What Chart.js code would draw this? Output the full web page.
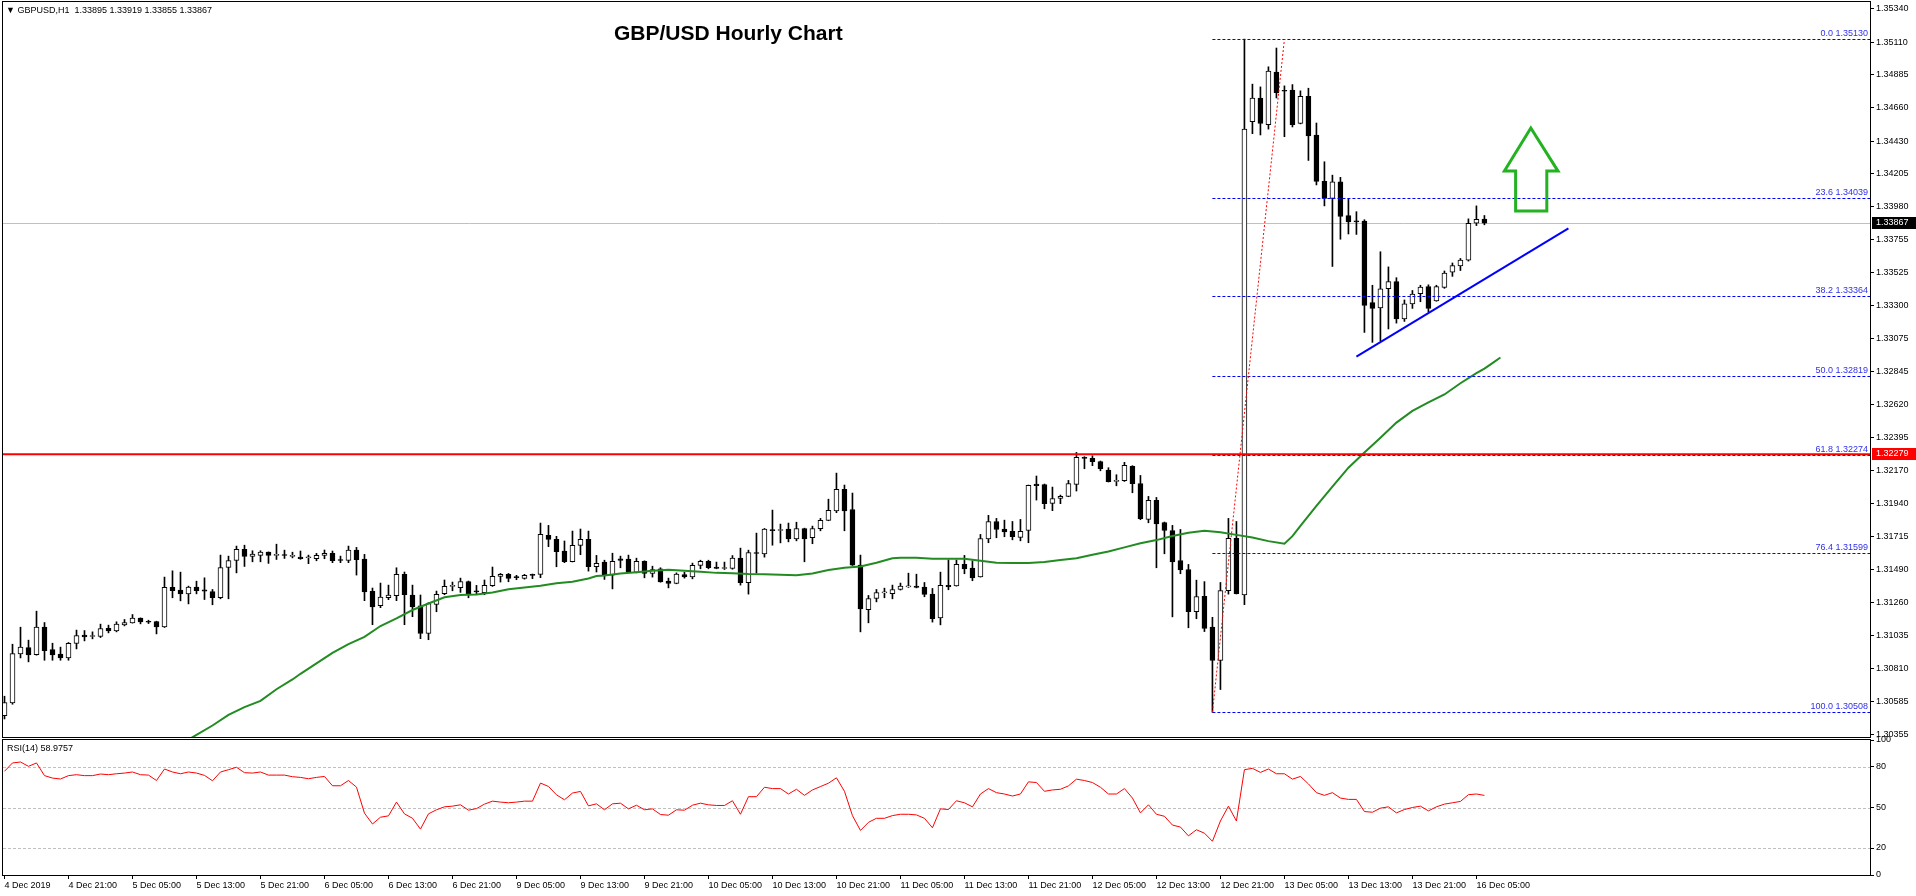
<!DOCTYPE html>
<html>
<head>
<meta charset="utf-8">
<script src="https://cdn.jsdelivr.net/npm/chart.js@4.4.1/dist/chart.umd.min.js"></script>
<style>
  html, body { margin: 0; padding: 0; background: #fff; overflow: hidden; }
  body { width: 1916px; height: 896px; position: relative; font-family: 'Liberation Sans', Arial, sans-serif; }
  #main { position: absolute; left: 0; top: -10px; }
  #rsi { position: absolute; left: 0; top: 730px; }
  .lbl { position: absolute; white-space: pre; color: #000; line-height: 1; }
</style>
</head>
<body>
<canvas id="main" width="1916" height="760"></canvas>
<canvas id="rsi" width="1916" height="166"></canvas>
<div class="lbl" style="left:6px;top:6px;font-size:9px">&#9660; GBPUSD,H1  1.33895 1.33919 1.33855 1.33867</div>
<div class="lbl" style="left:614px;top:22px;font-size:21px;font-weight:bold">GBP/USD Hourly Chart</div>
<div class="lbl" style="left:7px;top:744px;font-size:9px">RSI(14) 58.9757</div>
<script>
// hourly bars, 4 Dec 2019 13:00 .. 16 Dec 2019 06:00 (index 0..185)
const opens = [
  1.30485,1.30572,1.30909,1.30952,1.30904,1.31092,1.30939,1.30907,1.30881,1.30980,
  1.31037,1.31028,1.31028,1.31085,1.31067,1.31108,1.31122,1.31154,1.31131,1.31131,
  1.31094,1.31365,1.31346,1.31321,1.31367,1.31349,1.31337,1.31294,1.31502,1.31550,
  1.31626,1.31578,1.31585,1.31607,1.31585,1.31585,1.31578,1.31574,1.31569,1.31562,
  1.31585,1.31599,1.31551,1.31551,1.31622,1.31560,1.31338,1.31239,1.31294,1.31308,
  1.31455,1.31313,1.31239,1.31049,1.31248,1.31322,1.31372,1.31363,1.31406,1.31338,
  1.31329,1.31377,1.31441,1.31455,1.31434,1.31427,1.31455,1.31455,1.31722,1.31695,
  1.31615,1.31542,1.31654,1.31695,1.31507,1.31539,1.31449,1.31562,1.31559,1.31468,
  1.31545,1.31461,1.31493,1.31408,1.31392,1.31454,1.31438,1.31516,1.31545,1.31504,
  1.31495,1.31495,1.31566,1.31397,1.31603,1.31596,1.31763,1.31756,1.31765,1.31699,
  1.31770,1.31706,1.31768,1.31825,1.31891,1.32038,1.31900,1.31518,1.31213,1.31289,
  1.31328,1.31323,1.31351,1.31369,1.31374,1.31367,1.31319,1.31156,1.31379,1.31376,
  1.31523,1.31498,1.31438,1.31699,1.31818,1.31766,1.31750,1.31708,1.31756,1.32075,
  1.32072,1.31942,1.31976,1.31990,1.32072,1.32258,1.32251,1.32230,1.32171,1.32093,
  1.32098,1.32196,1.32079,1.31832,1.31963,1.31811,1.31756,1.31550,1.31488,1.31198,
  1.31304,1.31092,1.30863,1.31343,1.31702,1.31313,1.34564,1.34726,1.34542,1.34903,
  1.34775,1.34781,1.34551,1.34738,1.34472,1.34153,1.34037,1.34150,1.33918,1.33881,
  1.33881,1.33321,1.33284,1.33416,1.33465,1.33208,1.33312,1.33382,1.33431,1.33333,
  1.33425,1.33529,1.33572,1.33612,1.33866,1.33895
];
const highs = [
  1.30618,1.30975,1.31092,1.31003,1.31202,1.31124,1.30982,1.30955,1.30987,1.31072,
  1.31069,1.31060,1.31113,1.31106,1.31129,1.31145,1.31179,1.31156,1.31140,1.31133,
  1.31436,1.31479,1.31470,1.31374,1.31408,1.31431,1.31351,1.31587,1.31580,1.31649,
  1.31655,1.31617,1.31617,1.31609,1.31662,1.31621,1.31607,1.31615,1.31587,1.31599,
  1.31622,1.31615,1.31580,1.31649,1.31640,1.31592,1.31361,1.31395,1.31381,1.31500,
  1.31471,1.31381,1.31313,1.31260,1.31340,1.31416,1.31402,1.31429,1.31409,1.31379,
  1.31416,1.31505,1.31461,1.31461,1.31448,1.31455,1.31457,1.31807,1.31791,1.31716,
  1.31684,1.31752,1.31766,1.31752,1.31585,1.31552,1.31600,1.31580,1.31587,1.31566,
  1.31548,1.31511,1.31500,1.31429,1.31465,1.31470,1.31532,1.31552,1.31552,1.31539,
  1.31539,1.31584,1.31635,1.31621,1.31738,1.31770,1.31896,1.31800,1.31807,1.31813,
  1.31772,1.31786,1.31839,1.31971,1.32150,1.32068,1.32013,1.31587,1.31310,1.31351,
  1.31360,1.31381,1.31395,1.31463,1.31456,1.31399,1.31358,1.31470,1.31555,1.31553,
  1.31585,1.31548,1.31729,1.31860,1.31839,1.31827,1.31818,1.31832,1.32068,1.32130,
  1.32075,1.32054,1.31999,1.32100,1.32292,1.32263,1.32269,1.32233,1.32187,1.32139,
  1.32224,1.32201,1.32134,1.31990,1.31983,1.31814,1.31791,1.31763,1.31523,1.31415,
  1.31405,1.31160,1.31399,1.31839,1.31818,1.35130,1.34821,1.34802,1.34940,1.35069,
  1.34809,1.34818,1.34775,1.34793,1.34554,1.34288,1.34196,1.34181,1.34034,1.33945,
  1.33890,1.33440,1.33670,1.33566,1.33492,1.33339,1.33404,1.33440,1.33443,1.33440,
  1.33538,1.33593,1.33624,1.33896,1.33985,1.33919
];
const lows = [
  1.30462,1.30563,1.30881,1.30854,1.30900,1.30865,1.30865,1.30865,1.30865,1.30943,
  1.30998,1.31012,1.31021,1.31053,1.31060,1.31101,1.31120,1.31115,1.31117,1.31046,
  1.31090,1.31294,1.31273,1.31252,1.31321,1.31282,1.31246,1.31287,1.31287,1.31465,
  1.31509,1.31541,1.31541,1.31530,1.31557,1.31564,1.31568,1.31558,1.31528,1.31548,
  1.31562,1.31535,1.31535,1.31535,1.31450,1.31274,1.31109,1.31226,1.31281,1.31274,
  1.31109,1.31164,1.31013,1.31006,1.31198,1.31315,1.31342,1.31331,1.31294,1.31315,
  1.31315,1.31372,1.31402,1.31404,1.31418,1.31422,1.31425,1.31432,1.31645,1.31507,
  1.31535,1.31540,1.31590,1.31477,1.31471,1.31420,1.31355,1.31500,1.31466,1.31465,
  1.31431,1.31436,1.31401,1.31362,1.31390,1.31429,1.31424,1.31493,1.31493,1.31493,
  1.31488,1.31490,1.31381,1.31319,1.31463,1.31573,1.31655,1.31671,1.31678,1.31685,
  1.31541,1.31665,1.31754,1.31823,1.31878,1.31754,1.31516,1.31060,1.31122,1.31266,
  1.31294,1.31287,1.31347,1.31365,1.31362,1.31301,1.31127,1.31108,1.31349,1.31374,
  1.31459,1.31411,1.31436,1.31672,1.31706,1.31713,1.31692,1.31685,1.31672,1.31965,
  1.31905,1.31892,1.31940,1.31988,1.32027,1.32180,1.32201,1.32166,1.32089,1.32063,
  1.32093,1.32015,1.31830,1.31809,1.31500,1.31596,1.31163,1.31459,1.31088,1.31150,
  1.31062,1.30508,1.30664,1.31319,1.31320,1.31246,1.34481,1.34472,1.34512,1.34726,
  1.34460,1.34527,1.34548,1.34297,1.34129,1.33985,1.33569,1.33756,1.33792,1.33789,
  1.33116,1.33048,1.33058,1.33140,1.33180,1.33192,1.33281,1.33327,1.33257,1.33330,
  1.33419,1.33501,1.33541,1.33606,1.33850,1.33855
];
const closes = [
  1.30575,1.30911,1.30955,1.30902,1.31092,1.30930,1.30902,1.30881,1.30982,1.31035,
  1.31026,1.31033,1.31083,1.31067,1.31113,1.31124,1.31154,1.31129,1.31126,1.31094,
  1.31365,1.31342,1.31321,1.31367,1.31342,1.31339,1.31294,1.31502,1.31550,1.31626,
  1.31578,1.31594,1.31607,1.31585,1.31587,1.31584,1.31579,1.31562,1.31570,1.31585,
  1.31599,1.31548,1.31550,1.31622,1.31555,1.31335,1.31232,1.31299,1.31313,1.31455,
  1.31315,1.31232,1.31049,1.31255,1.31317,1.31372,1.31377,1.31406,1.31315,1.31335,
  1.31379,1.31441,1.31455,1.31427,1.31432,1.31448,1.31448,1.31729,1.31695,1.31610,
  1.31542,1.31654,1.31695,1.31507,1.31530,1.31449,1.31545,1.31550,1.31468,1.31545,
  1.31461,1.31488,1.31403,1.31392,1.31456,1.31438,1.31516,1.31545,1.31500,1.31495,
  1.31496,1.31566,1.31397,1.31605,1.31598,1.31765,1.31754,1.31757,1.31699,1.31770,
  1.31699,1.31770,1.31825,1.31894,1.32038,1.31891,1.31518,1.31218,1.31289,1.31330,
  1.31330,1.31351,1.31374,1.31372,1.31365,1.31317,1.31150,1.31379,1.31369,1.31523,
  1.31493,1.31431,1.31701,1.31818,1.31763,1.31747,1.31713,1.31750,1.32066,1.32063,
  1.31940,1.31976,1.31990,1.32079,1.32258,1.32251,1.32228,1.32180,1.32091,1.32094,
  1.32203,1.32077,1.31837,1.31963,1.31802,1.31756,1.31541,1.31486,1.31198,1.31303,
  1.31083,1.30863,1.31343,1.31702,1.31322,1.34512,1.34726,1.34551,1.34910,1.34763,
  1.34772,1.34542,1.34738,1.34466,1.34153,1.34037,1.34150,1.33912,1.33875,1.33875,
  1.33302,1.33281,1.33416,1.33465,1.33208,1.33312,1.33379,1.33428,1.33281,1.33431,
  1.33523,1.33575,1.33612,1.33866,1.33893,1.33867
];

// moving average (green), read at these bars
const maBars = [22,24,26,28,30,32,34,36,37,39,41,43,45,47,49,51,53,55,57,59,61,63,65,67,69,71,73,74,
  75,77,79,81,83,85,87,89,91,93,95,97,99,101,103,105,107,109,111,112,114,116,118,120,122,124,126,128,
  130,132,134,136,138,140,142,144,146,148,149,150,152,154,156,158,160,161,162,164,166,168,170,172,174,
  176,178,180,182,184,185,186,187];
const maValues = [1.30290,1.30352,1.30417,1.30490,1.30543,1.30586,1.30666,1.30733,1.30772,1.30843,
  1.30916,1.30976,1.31026,1.31100,1.31152,1.31210,1.31255,1.31297,1.31313,1.31317,1.31331,1.31352,
  1.31365,1.31377,1.31393,1.31404,1.31427,1.31443,1.31447,1.31461,1.31470,1.31479,1.31486,1.31479,
  1.31472,1.31465,1.31463,1.31458,1.31456,1.31452,1.31449,1.31461,1.31484,1.31500,1.31509,1.31534,
  1.31566,1.31569,1.31569,1.31562,1.31562,1.31562,1.31548,1.31534,1.31532,1.31532,1.31539,1.31553,
  1.31566,1.31589,1.31612,1.31640,1.31669,1.31690,1.31718,1.31741,1.31747,1.31754,1.31744,1.31726,
  1.31708,1.31683,1.31665,1.31717,1.31787,1.31925,1.32057,1.32187,1.32292,1.32393,1.32497,1.32577,
  1.32635,1.32690,1.32767,1.32837,1.32868,1.32905,1.32944];

// RSI(14), one value per bar
const rsiValues = [
  76.8,83.0,83.7,80.5,83.0,73.6,71.8,71.1,73.6,74.3,73.6,73.6,74.8,74.3,75.0,75.5,76.3,74.3,74.0,70.0,
  78.5,76.3,75.0,76.3,75.5,73.8,69.8,76.3,78.0,79.8,75.8,75.5,76.3,74.0,74.0,74.0,72.8,72.3,71.3,72.3,
  73.0,66.1,66.1,70.0,65.1,45.8,37.8,42.8,43.8,54.0,45.3,42.0,34.0,45.3,48.3,50.5,51.0,52.0,48.0,49.2,
  52.5,54.7,54.0,53.5,54.0,54.7,54.7,68.1,65.6,59.4,55.7,60.7,61.9,51.2,52.7,48.3,52.7,53.2,49.0,51.7,
  48.3,49.0,44.8,44.3,48.3,48.0,51.7,53.2,52.0,51.5,51.5,55.0,45.0,58.0,58.0,65.0,64.0,64.0,60.0,63.5,
  59.0,63.0,65.5,68.0,72.0,62.0,44.0,33.0,39.0,42.0,42.0,44.0,45.0,45.0,44.5,42.0,35.0,49.0,48.5,55.0,
  53.5,50.5,60.0,64.0,61.0,60.0,58.5,60.0,69.0,68.5,62.0,63.0,63.5,66.0,71.0,70.0,68.5,65.0,60.0,60.0,
  64.0,57.0,46.0,52.0,45.0,43.5,37.0,35.5,29.0,33.5,31.0,25.0,40.0,51.0,40.0,78.0,79.0,76.0,78.5,75.0,
  75.0,71.0,73.0,67.5,61.0,59.0,61.0,57.0,56.0,56.0,47.0,46.5,49.5,50.5,46.0,48.5,50.0,51.0,47.5,50.5,
  52.5,53.5,54.5,59.5,60.0,58.98
];
const rsiLevels = [80, 50, 20];
const rsiTicks = [0, 20, 50, 80, 100];

const priceTicks = [1.35340,1.35110,1.34885,1.34660,1.34430,1.34205,1.33980,1.33755,1.33525,1.33300,
  1.33075,1.32845,1.32620,1.32395,1.32170,1.31940,1.31715,1.31490,1.31260,1.31035,1.30810,1.30585,1.30355];
const dateTickBars = [0,8,16,24,32,40,48,56,64,72,80,88,96,104,112,120,128,136,144,152,160,168,176,184];
const dateLabels = ['4 Dec 2019','4 Dec 21:00','5 Dec 05:00','5 Dec 13:00','5 Dec 21:00','6 Dec 05:00',
  '6 Dec 13:00','6 Dec 21:00','9 Dec 05:00','9 Dec 13:00','9 Dec 21:00','10 Dec 05:00','10 Dec 13:00',
  '10 Dec 21:00','11 Dec 05:00','11 Dec 13:00','11 Dec 21:00','12 Dec 05:00','12 Dec 13:00','12 Dec 21:00',
  '13 Dec 05:00','13 Dec 13:00','13 Dec 21:00','16 Dec 05:00'];

// drawing objects
const fibLevels = [0.0, 23.6, 38.2, 50.0, 61.8, 76.4, 100.0];
const fibPrices = [1.35130, 1.34039, 1.33364, 1.32819, 1.32274, 1.31599, 1.30508];
const fibFromBar = 151, fibToBar = 160;
const resistance = 1.32279;
const bidPrice = 1.33867;
const trendBars = [169, 195.5];
const trendPrices = [1.32950, 1.33830];
const arrowBars = [190.8, 194.2, 192.8, 192.8, 188.9, 188.9, 187.5];
const arrowPrices = [1.34520, 1.34224, 1.34224, 1.33950, 1.33950, 1.34224, 1.34224];

const FONT = "'Liberation Sans', Arial, sans-serif";
const xMin = -0.1875, xMax = 233.2;

const bars = opens.map((o, i) => i);
const bodyFill = bars.map(i => closes[i] >= opens[i] ? '#ffffff' : '#000000');

const framePlugin = {
  id: 'frame',
  afterDraw(chart) {
    const { ctx, chartArea: a } = chart;
    ctx.save();
    ctx.strokeStyle = '#000';
    ctx.lineWidth = 1;
    ctx.strokeRect(Math.round(a.left) - 0.5, Math.round(a.top) - 0.5,
      Math.round(a.right - a.left) + 1, Math.round(a.bottom - a.top) + 1);
    ctx.restore();
  }
};

function axisBox(ctx, chart, price, bg, fg) {
  const y = chart.scales.y.getPixelForValue(price);
  const x = chart.chartArea.right + 2;
  ctx.fillStyle = bg;
  ctx.fillRect(x, Math.round(y) - 6, 44, 12);
  ctx.fillStyle = fg;
  ctx.font = '9px ' + FONT;
  ctx.textBaseline = 'middle';
  ctx.textAlign = 'left';
  ctx.fillText(price.toFixed(5), x + 4, Math.round(y));
}

const objectsPlugin = {
  id: 'objects',
  beforeDatasetsDraw(chart) {
    const { ctx, chartArea: a, scales: { y } } = chart;
    ctx.save();
    const by = Math.round(y.getPixelForValue(bidPrice)) + 0.5;
    ctx.strokeStyle = '#c0c0c0';
    ctx.lineWidth = 1;
    ctx.beginPath(); ctx.moveTo(a.left, by); ctx.lineTo(a.right, by); ctx.stroke();
    ctx.restore();
  },
  afterDatasetsDraw(chart) {
    const { ctx, chartArea: a, scales: { x, y } } = chart;
    ctx.save();
    // fibonacci levels
    ctx.setLineDash([3, 2]);
    ctx.strokeStyle = '#0000ff';
    ctx.lineWidth = 1;
    ctx.font = '9px ' + FONT;
    ctx.textAlign = 'right';
    ctx.textBaseline = 'bottom';
    const fx = x.getPixelForValue(fibFromBar);
    fibPrices.forEach((p, k) => {
      const fy = Math.round(y.getPixelForValue(p)) + 0.5;
      ctx.beginPath(); ctx.moveTo(fx, fy); ctx.lineTo(a.right, fy); ctx.stroke();
      ctx.fillStyle = '#3030e8';
      ctx.fillText(fibLevels[k].toFixed(1) + ' ' + p.toFixed(5), a.right - 2, fy - 1);
    });
    // fibonacci base line (red dotted)
    ctx.setLineDash([2, 2]);
    ctx.strokeStyle = '#ff0000';
    ctx.beginPath();
    ctx.moveTo(x.getPixelForValue(fibFromBar), y.getPixelForValue(fibPrices[6]));
    ctx.lineTo(x.getPixelForValue(fibToBar), y.getPixelForValue(fibPrices[0]));
    ctx.stroke();
    ctx.setLineDash([]);
    // resistance line
    const ry = y.getPixelForValue(resistance);
    ctx.strokeStyle = '#ff0000';
    ctx.lineWidth = 2;
    ctx.beginPath(); ctx.moveTo(a.left, ry); ctx.lineTo(a.right, ry); ctx.stroke();
    // arrow
    ctx.strokeStyle = '#22b222';
    ctx.lineWidth = 3;
    ctx.lineJoin = 'miter';
    ctx.beginPath();
    arrowBars.forEach((b, k) => {
      const px = x.getPixelForValue(b), py = y.getPixelForValue(arrowPrices[k]);
      if (k === 0) ctx.moveTo(px, py); else ctx.lineTo(px, py);
    });
    ctx.closePath();
    ctx.stroke();
    ctx.restore();
  },
  afterDraw(chart) {
    const { ctx } = chart;
    ctx.save();
    axisBox(ctx, chart, bidPrice, '#000000', '#ffffff');
    axisBox(ctx, chart, resistance, '#ff0000', '#ffffff');
    ctx.restore();
  }
};

new Chart(document.getElementById('main'), {
  type: 'bar',
  data: {
    datasets: [
      {
        type: 'line',
        data: trendBars.map((b, k) => ({ x: b, y: trendPrices[k] })),
        borderColor: '#0000ff', borderWidth: 2, pointRadius: 0, order: 0
      },
      {
        type: 'line',
        data: maBars.map((b, k) => ({ x: b, y: maValues[k] })),
        borderColor: '#228b22', borderWidth: 2, pointRadius: 0, tension: 0, order: 1
      },
      {
        data: bars.map(i => ({ x: i, y: [opens[i], closes[i]] })),
        backgroundColor: bodyFill, borderColor: '#000000', borderWidth: 1,
        borderSkipped: false, barThickness: 5, minBarLength: 1, grouped: false, order: 2
      },
      {
        data: bars.map(i => ({ x: i, y: [lows[i], highs[i]] })),
        backgroundColor: '#000000', borderWidth: 0, barThickness: 1, grouped: false, order: 3
      }
    ]
  },
  options: {
    responsive: false,
    animation: false,
    events: [],
    layout: { padding: { left: 3, right: 0, top: 12, bottom: 13 } },
    plugins: { legend: { display: false }, tooltip: { enabled: false } },
    scales: {
      x: { type: 'linear', min: xMin, max: xMax, offset: false, display: false },
      y: {
        position: 'right', min: 1.30338, max: 1.35385, beginAtZero: false,
        afterBuildTicks: s => { s.ticks = priceTicks.map(v => ({ value: v })); },
        afterFit: s => { s.width = 46; },
        ticks: { callback: v => v.toFixed(5), color: '#000', padding: 2, font: { family: FONT, size: 9 } },
        grid: { drawOnChartArea: false, tickLength: 4, color: '#000' },
        border: { color: '#000' }
      }
    }
  },
  plugins: [objectsPlugin, framePlugin]
});

const rsiLevelsPlugin = {
  id: 'rsiLevels',
  beforeDatasetsDraw(chart) {
    const { ctx, chartArea: a, scales: { y } } = chart;
    ctx.save();
    ctx.setLineDash([3, 2]);
    ctx.strokeStyle = '#c0c0c0';
    ctx.lineWidth = 1;
    rsiLevels.forEach(l => {
      const ly = Math.round(y.getPixelForValue(l)) + 0.5;
      ctx.beginPath(); ctx.moveTo(a.left, ly); ctx.lineTo(a.right, ly); ctx.stroke();
    });
    ctx.restore();
  }
};

new Chart(document.getElementById('rsi'), {
  type: 'line',
  data: {
    datasets: [{
      data: bars.map(i => ({ x: i, y: rsiValues[i] })),
      borderColor: '#ff0000', borderWidth: 1, pointRadius: 0, tension: 0
    }]
  },
  options: {
    responsive: false,
    animation: false,
    events: [],
    layout: { padding: { left: 3, right: 0, top: 10, bottom: 0 } },
    plugins: { legend: { display: false }, tooltip: { enabled: false } },
    scales: {
      x: {
        type: 'linear', min: xMin, max: xMax, offset: false,
        afterBuildTicks: s => { s.ticks = dateTickBars.map(v => ({ value: v })); },
        afterFit: s => { s.height = 21; },
        ticks: {
          autoSkip: false, maxRotation: 0, minRotation: 0, align: 'start', padding: 1,
          color: '#000', font: { family: FONT, size: 9 },
          callback: (v, i) => dateLabels[i]
        },
        grid: { drawOnChartArea: false, tickLength: 4, color: '#000' },
        border: { color: '#000' }
      },
      y: {
        position: 'right', min: 0, max: 100,
        afterBuildTicks: s => { s.ticks = rsiTicks.map(v => ({ value: v })); },
        afterFit: s => { s.width = 46; },
        ticks: { callback: v => String(v), color: '#000', padding: 2, font: { family: FONT, size: 9 } },
        grid: { drawOnChartArea: false, tickLength: 4, color: '#000' },
        border: { color: '#000' }
      }
    }
  },
  plugins: [rsiLevelsPlugin, framePlugin]
});
</script>
</body>
</html>
